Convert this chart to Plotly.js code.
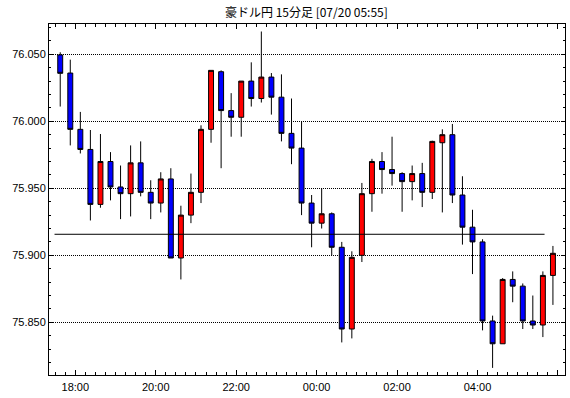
<!DOCTYPE html>
<html>
<head>
<meta charset="utf-8">
<script src="https://cdn.plot.ly/plotly-3.0.1.min.js"></script>
<style>
html,body{margin:0;padding:0;background:#fff;}
#chart{width:570px;height:398px;}
</style>
</head>
<body>
<div id="chart"></div>
<script>
// 15-minute bars, start times (first bar 07/19 17:30)
var barStart = '2020-07-19 17:30';
var barMinutes = 15;

var openVals  = [76.0495,76.036,75.994,75.979,75.938,75.970,75.951,75.946,75.969,75.947,
                 75.939,75.957,75.898,75.930,75.947,75.994,76.037,76.008,76.003,76.030,
                 76.017,76.033,76.018,75.991,75.980,75.939,75.924,75.931,75.906,75.845,
                 75.900,75.946,75.970,75.964,75.961,75.955,75.961,75.947,75.984,75.990,
                 75.945,75.921,75.910,75.851,75.834,75.882,75.877,75.851,75.848,75.885];
var highVals  = [76.0515,76.046,76.007,75.9935,75.9905,75.977,75.967,75.982,75.985,75.956,
                 75.962,75.965,75.937,75.961,75.997,76.038,76.038,76.021,76.030,76.044,
                 76.067,76.036,76.035,76.017,76.000,75.945,75.950,75.932,75.910,75.903,
                 75.954,75.972,75.977,75.9885,75.962,75.967,75.969,75.9855,75.994,75.998,
                 75.959,75.934,75.912,75.855,75.883,75.888,75.879,75.870,75.888,75.907];
var lowVals   = [76.011,75.982,75.976,75.926,75.9355,75.941,75.927,75.929,75.944,75.927,
                 75.932,75.898,75.882,75.924,75.939,75.984,75.965,75.9885,75.9885,76.011,
                 76.014,76.005,75.985,75.968,75.930,75.906,75.920,75.900,75.835,75.838,
                 75.895,75.9325,75.946,75.952,75.9325,75.941,75.936,75.942,75.932,75.939,
                 75.908,75.886,75.844,75.816,75.834,75.865,75.845,75.845,75.839,75.863];
var closeVals = [76.0358,75.994,75.979,75.938,75.970,75.951,75.946,75.969,75.947,75.939,
                 75.957,75.898,75.930,75.947,75.994,76.038,76.008,76.003,76.030,76.017,
                 76.033,76.018,75.991,75.980,75.939,75.924,75.931,75.906,75.845,75.8985,
                 75.946,75.970,75.964,75.961,75.955,75.961,75.947,75.985,75.990,75.945,
                 75.921,75.910,75.851,75.834,75.882,75.877,75.851,75.848,75.885,75.9015];

// horizontal reference level
var refLevel = 75.9157;
var refStart = '2020-07-19 17:29:00';
var refEnd   = '2020-07-20 05:40:00';

var titleText = '豪ドル円 15分足 [07/20 05:55]';
var xRange = ['2020-07-19 17:20:45', '2020-07-20 06:10:30'];
var yRange = [75.8107, 76.0726];

function pad(n){return (n<10?'0':'')+n;}
function fmt(ms){
  var d = new Date(ms);
  return d.getUTCFullYear()+'-'+pad(d.getUTCMonth()+1)+'-'+pad(d.getUTCDate())+' '+
         pad(d.getUTCHours())+':'+pad(d.getUTCMinutes())+':'+pad(d.getUTCSeconds());
}
var startMs = Date.parse(barStart.replace(' ','T')+':00Z');
var xCenters = openVals.map(function(_, i){
  return fmt(startMs + i*barMinutes*60000 + barMinutes*30000);
});

var font = 'Liberation Sans, Arial, sans-serif';

var traces = [
  {
    type: 'candlestick',
    x: xCenters,
    open: openVals, high: highVals, low: lowVals, close: closeVals,
    increasing: {line: {color: '#000', width: 1}, fillcolor: '#ff0000'},
    decreasing: {line: {color: '#000', width: 1}, fillcolor: '#0000ff'},
    whiskerwidth: 0,
    hoverinfo: 'skip',
    showlegend: false
  },
  {
    type: 'scatter', mode: 'lines',
    x: [refStart, refEnd], y: [refLevel, refLevel],
    line: {color: '#000', width: 1},
    hoverinfo: 'skip', showlegend: false
  }
];

var layout = {
  width: 570, height: 398,
  margin: {l: 49, r: 5, t: 24, b: 23, pad: 0},
  paper_bgcolor: '#fff', plot_bgcolor: '#fff',
  showlegend: false,
  title: {text: titleText, font: {family: 'Noto Sans CJK JP, sans-serif', size: 12, color: '#000'},
          x: 0.5375, xanchor: 'center', y: 0.968, yanchor: 'middle'},
  xaxis: {
    type: 'date', range: xRange,
    rangeslider: {visible: false},
    showline: true, linecolor: '#000', linewidth: 1, mirror: 'allticks',
    showgrid: false, zeroline: false,
    ticks: 'inside', ticklen: 5, tickwidth: 1, tickcolor: '#000',
    tick0: '2020-07-19 00:00', dtick: 7200000, tickformat: '%H:%M',
    tickfont: {family: font, size: 11, color: '#000'},
    ticklabelstandoff: 2,
    minor: {ticks: 'inside', ticklen: 3, tickwidth: 1, tickcolor: '#000', dtick: 900000, tick0: '2020-07-19 00:00', showgrid: false}
  },
  yaxis: {
    range: yRange,
    showline: true, linecolor: '#000', linewidth: 1, mirror: 'allticks',
    showgrid: true, gridcolor: '#000', gridwidth: 1, griddash: '1px,1px',
    zeroline: false,
    ticks: 'inside', ticklen: 4, tickwidth: 1, tickcolor: '#000',
    tick0: 75.8, dtick: 0.05, tickformat: '.3f',
    tickfont: {family: font, size: 11, color: '#000'},
    minor: {ticks: 'inside', ticklen: 2, tickwidth: 1, tickcolor: '#000', dtick: 0.01, showgrid: false}
  }
};

Plotly.newPlot('chart', traces, layout, {staticPlot: true, displayModeBar: false});
</script>
</body>
</html>
